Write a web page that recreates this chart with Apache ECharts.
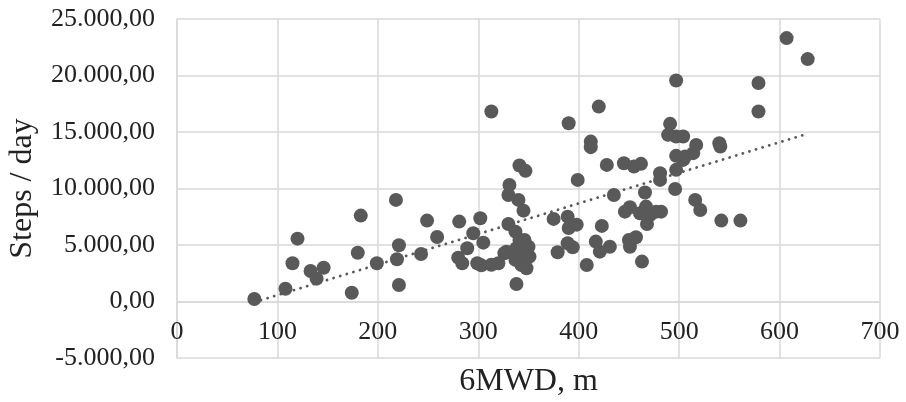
<!DOCTYPE html>
<html>
<head>
<meta charset="utf-8">
<script src="https://cdn.jsdelivr.net/npm/echarts@6/dist/echarts.min.js"></script>
<style>html,body{margin:0;padding:0;background:#fff}#c{width:906px;height:402px}</style>
</head>
<body>
<div id="c"></div>
<script>
// 6MWD (m) for each patient
var walkDistance = [77,108,115,120,133,139,146,174,180,183,199,218,219,221,221,243,249,259,281,280,284,289,295,302,305,299,303,313,313,320,326,331,330,341,347,340,345,330,337,341,346,350,338,345,351,337,343,348,328,338,
375,379,389,390,398,389,394,390,399,408,412,412,417,421,431,420,423,428,435,445,455,462,446,451,461,467,471,477,482,450,451,457,463,466,468,481,481,491,489,497,504,497,496,497,506,514,504,497,517,516,521,540,541,542,561,579,579,607,628];
// Steps per day for each patient
var stepsPerDay = [220,1130,3380,5560,2700,2020,2990,780,4320,7600,3380,8990,3740,4980,1460,4210,7160,5710,7070,3880,3380,4710,6040,7370,5210,3380,3200,16810,3250,3380,4270,10320,9430,12030,11560,8990,8040,6860,6180,5450,5450,4850,4710,4270,3970,3680,3230,2940,4410,1550,
7310,4360,7510,6500,6800,5150,4800,15780,10760,3230,14150,13660,5300,4410,4850,17250,6690,12090,9430,12240,11940,12180,7950,8340,7810,8400,7660,7950,7950,5450,4850,5680,3530,9640,6860,11350,10760,15720,14750,14600,14600,19560,9960,12890,12830,13130,12530,11650,13860,8990,8100,14010,13710,7160,7160,19330,16810,23310,21450];
// Linear trendline end points
var trendX = [77, 628];
var trendY = [-60, 14850];
// Axis ranges
var xRange = [0, 700, 100];
var yRange = [-5000, 25000, 5000];

var points = walkDistance.map(function (x, i) { return [x, stepsPerDay[i]]; });
var trend = trendX.map(function (x, i) { return [x, trendY[i]]; });

function fmt(v) {
  var neg = v < 0; v = Math.abs(v);
  var s = String(Math.round(v)).replace(/\B(?=(\d{3})+(?!\d))/g, '.');
  return (neg ? '-' : '') + s + ',00';
}

var FONT = '"Liberation Serif", "Times New Roman", serif';
var GRID = '#d9d9d9';
var GRID_TOP = 19, GRID_BOTTOM = 44, H = 402;
// the x axis crosses the y axis at 0: shift it up by the pixel span of (0 - yMin)
var plotH = H - GRID_TOP - GRID_BOTTOM;
var zeroOffset = -plotH * (0 - yRange[0]) / (yRange[1] - yRange[0]);

var chart = echarts.init(document.getElementById('c'), null, {renderer: 'canvas'});
chart.setOption({
  animation: false,
  grid: {left: 177, right: 26, top: GRID_TOP, bottom: GRID_BOTTOM, containLabel: false, outerBoundsMode: 'none'},
  xAxis: {
    type: 'value', min: xRange[0], max: xRange[1], interval: xRange[2],
    offset: zeroOffset,
    name: '6MWD, m', nameLocation: 'middle', nameGap: 64,
    nameTextStyle: {fontFamily: FONT, fontSize: 32, color: '#222'},
    axisLine: {show: true, onZero: false, lineStyle: {color: GRID, width: 1.5}},
    axisTick: {show: false},
    axisLabel: {fontFamily: FONT, fontSize: 26, color: '#222', margin: 18},
    splitLine: {show: true, lineStyle: {color: GRID, width: 1.5}}
  },
  yAxis: {
    type: 'value', min: yRange[0], max: yRange[1], interval: yRange[2],
    name: 'Steps / day', nameLocation: 'middle', nameGap: 138,
    nameTextStyle: {fontFamily: FONT, fontSize: 32, color: '#222'},
    axisLine: {show: true, lineStyle: {color: GRID, width: 1.5}},
    axisTick: {show: false},
    axisLabel: {fontFamily: FONT, fontSize: 26, color: '#222', margin: 22, formatter: fmt},
    splitLine: {show: true, lineStyle: {color: GRID, width: 1.5}}
  },
  series: [
    {
      type: 'line', data: trend, symbol: 'none', z: 1, silent: true,
      lineStyle: {color: '#595959', width: 2.8, type: [0.1, 6.8], cap: 'round'}
    },
    {
      type: 'scatter', data: points, symbol: 'circle', symbolSize: 14, z: 2,
      itemStyle: {color: '#595959', opacity: 1}
    }
  ]
});
</script>
</body>
</html>
